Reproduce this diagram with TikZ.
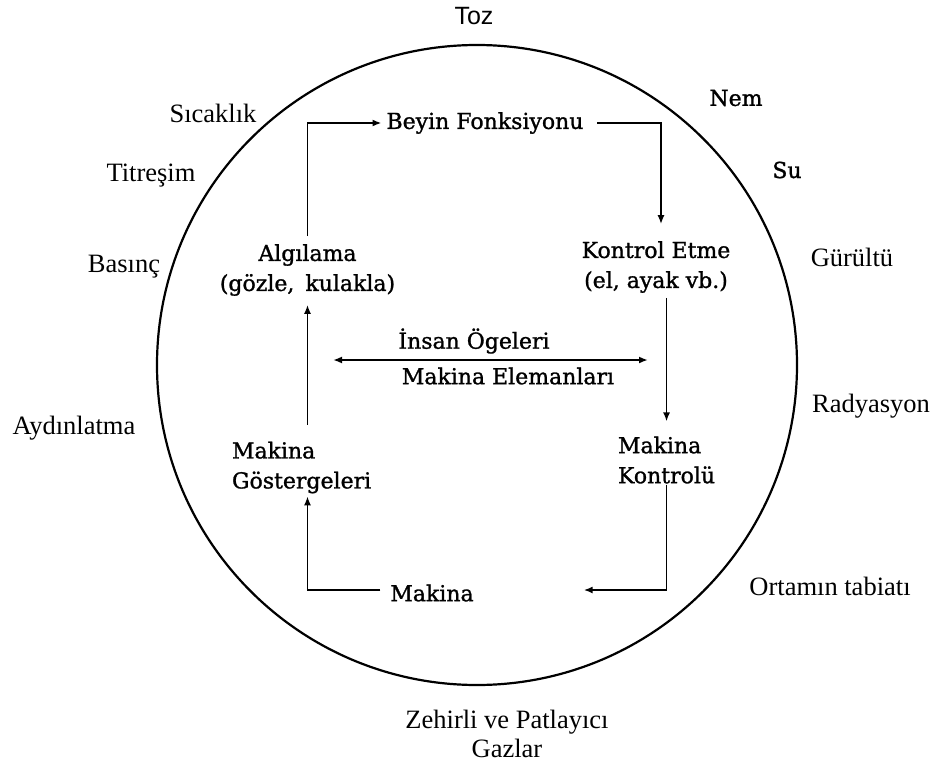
\documentclass[tikz,border=0pt]{standalone}
\usepackage{fontspec}
\setmainfont{Liberation Serif}
\newfontfamily\innerfont[FakeBold=1.2]{DejaVu Serif}
\newfontfamily\tozfont{Liberation Sans}
\usetikzlibrary{arrows.meta,calc}
\begin{document}
\begin{tikzpicture}[x=1bp,y=-1bp,
  inner/.style={font=\innerfont\fontsize{22bp}{30bp}\selectfont, inner sep=0pt, outer sep=0pt},
  outer/.style={font=\fontsize{26.5bp}{29bp}\selectfont, inner sep=0pt, outer sep=0pt},
  tip/.tip={Latex[length=9bp,width=7bp]},
  conn/.style={line width=1.8bp, -tip},
  dconn/.style={line width=1.8bp, tip-tip},
]
\useasboundingbox (0,0) rectangle (937,769);
\draw[line width=2.2bp] (477,365) circle[radius=320];

% inner nodes
\node[inner, align=center] (alg) at (307.5,270) {Algılama\\(gözle,\hspace{4bp} kulakla)};
\node[inner] (beyin) at (485,123) {Beyin Fonksiyonu};
\node[inner, align=center] (kontrol) at (656,267) {Kontrol Etme\\(el, ayak vb.)};
\node[inner, align=left, anchor=west] (makctrl) at (618,460) {Makina\\Kontrolü};
\node[inner] (makina) at (432,593) {Makina};
\node[inner, align=left, anchor=west] (gost) at (232,467.5) {Makina\\Göstergeleri};
\node[inner] (insan) at (474,341) {İnsan Ögeleri};
\node[inner] (makel) at (508,376) {Makina Elemanları};

% outer labels
\node[outer, font=\tozfont\fontsize{25bp}{29bp}\selectfont] (toz) at (474,16) {Toz};
\node[outer] (sicak) at (213,113) {Sıcaklık};
\node[outer] (titre) at (151,176) {Titreşim};
\node[outer] (basinc) at (124,267) {Basınç};
\node[outer] (aydin) at (74,428) {Aydınlatma};
\node[inner] (nem) at (736,98) {Nem};
\node[inner] (su) at (787,170) {Su};
\node[outer] (gurultu) at (852,257) {Gürültü};
\node[outer] (radya) at (871,406) {Radyasyon};
\node[outer] (ortam) at (830,586) {Ortamın tabiatı};
\node[outer, align=center] (zehir) at (507,734) {Zehirli ve Patlayıcı\\Gazlar};

% connectors
\draw[conn] ($(alg.north)+(0,-8)$) |- ($(beyin.west)+(-5,0)$);
\draw[conn] ($(beyin.east)+(14,0)$) -| ($(kontrol.north)+(5,-17)$);
\draw[conn] ($(kontrol.south -| makctrl.center)+(0,5)$) -- ($(makctrl.north)+(0,-15)$);
\draw[conn] ($(makctrl.south)+(0,1)$) |- ($(makina.east)+(110,-3)$);
\draw[conn] ($(makina.west)+(-10,-3)$) -| ($(gost.south -| alg.south)+(0,3)$);
\draw[conn] ($(gost.north -| alg.south)+(0,-17)$) -- ($(alg.south)+(0,9)$);
\coordinate (ha) at (333,360);
\coordinate (hb) at (648,360);
\draw[dconn] (ha) -- (hb);
\end{tikzpicture}
\end{document}
